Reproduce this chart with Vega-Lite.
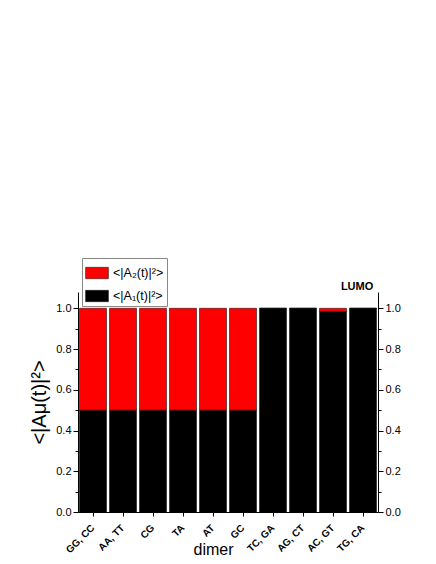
{
  "$schema": "https://vega.github.io/schema/vega-lite/v6.json",
  "width": 300,
  "height": 220,
  "autosize": {"type": "none"},
  "padding": {"left": 78, "top": 292, "right": 58, "bottom": 52},
  "background": "white",
  "title": {"text": "LUMO", "anchor": "end", "fontSize": 11, "fontWeight": "bold", "font": "Liberation Sans", "color": "black", "offset": 4, "dx": -27, "dy": 38},
  "config": {
    "view": {"stroke": null},
    "axis": {"labelFont": "Liberation Sans", "titleFont": "Liberation Sans", "domainColor": "black", "tickColor": "black", "labelColor": "black", "titleColor": "black", "grid": false, "titleFontWeight": "normal"}
  },
  "data": {"values": [
    {"dimer": "GG, CC", "series": "<|A₁(t)|²>", "value": 0.5},
    {"dimer": "GG, CC", "series": "<|A₂(t)|²>", "value": 0.5},
    {"dimer": "AA, TT", "series": "<|A₁(t)|²>", "value": 0.5},
    {"dimer": "AA, TT", "series": "<|A₂(t)|²>", "value": 0.5},
    {"dimer": "CG", "series": "<|A₁(t)|²>", "value": 0.5},
    {"dimer": "CG", "series": "<|A₂(t)|²>", "value": 0.5},
    {"dimer": "TA", "series": "<|A₁(t)|²>", "value": 0.5},
    {"dimer": "TA", "series": "<|A₂(t)|²>", "value": 0.5},
    {"dimer": "AT", "series": "<|A₁(t)|²>", "value": 0.5},
    {"dimer": "AT", "series": "<|A₂(t)|²>", "value": 0.5},
    {"dimer": "GC", "series": "<|A₁(t)|²>", "value": 0.5},
    {"dimer": "GC", "series": "<|A₂(t)|²>", "value": 0.5},
    {"dimer": "TC, GA", "series": "<|A₁(t)|²>", "value": 1.0},
    {"dimer": "TC, GA", "series": "<|A₂(t)|²>", "value": 0.0},
    {"dimer": "AG, CT", "series": "<|A₁(t)|²>", "value": 1.0},
    {"dimer": "AG, CT", "series": "<|A₂(t)|²>", "value": 0.0},
    {"dimer": "AC, GT", "series": "<|A₁(t)|²>", "value": 0.985},
    {"dimer": "AC, GT", "series": "<|A₂(t)|²>", "value": 0.015},
    {"dimer": "TG, CA", "series": "<|A₁(t)|²>", "value": 1.0},
    {"dimer": "TG, CA", "series": "<|A₂(t)|²>", "value": 0.0}
  ]},
  "encoding": {
    "x": {
      "field": "dimer", "type": "nominal", "sort": null,
      "scale": {"paddingInner": 0.1, "paddingOuter": 0.05},
      "axis": {"title": "dimer", "titleFontSize": 16, "titleX": 135, "titleY": 29, "titleBaseline": "top", "titleAlign": "center", "labelAngle": -45, "labelAlign": "right", "labelBaseline": "middle", "labelFontSize": 10, "labelFontWeight": "bold", "labelFont": "Liberation Sans", "tickSize": 4, "labelPadding": 10, "domainColor": "black"}
    }
  },
  "layer": [
    {
      "mark": {"type": "bar", "stroke": "black", "strokeWidth": 0.5},
      "encoding": {
        "y": {"field": "value", "type": "quantitative", "stack": "zero", "scale": {"domain": [0, 1.08], "nice": false},
          "axis": {"title": "<|Aμ(t)|²>", "titleFontSize": 20, "titlePadding": 6, "values": [0, 0.2, 0.4, 0.6, 0.8, 1.0], "format": ".1f", "labelFontSize": 11, "tickSize": 5, "orient": "left"}},
        "color": {"field": "series", "type": "nominal",
          "scale": {"domain": ["<|A₂(t)|²>", "<|A₁(t)|²>"], "range": ["#ff0000", "#000000"]},
          "legend": {"title": null, "orient": "none", "legendX": 4, "legendY": -34, "direction": "vertical", "fillColor": "white", "strokeColor": "#888888", "padding": 3, "rowPadding": 4, "labelFontSize": 12.5, "labelFont": "Liberation Sans", "labelColor": "black", "symbolType": "M-1,-0.5H1V0.5H-1Z", "symbolSize": 520, "symbolStrokeColor": "black", "symbolStrokeWidth": 0.5, "symbolOpacity": 1, "labelOffset": 4}},
        "order": {"field": "series", "sort": "ascending"}
      }
    },
    {
      "mark": {"type": "bar", "opacity": 0},
      "encoding": {
        "y": {"field": "value", "type": "quantitative", "aggregate": "sum",
          "axis": {"title": null, "values": [0.1, 0.3, 0.5, 0.7, 0.9], "labels": false, "domain": false, "tickSize": 3, "orient": "left"}}
      }
    },
    {
      "mark": {"type": "bar", "opacity": 0},
      "encoding": {
        "y": {"field": "value", "type": "quantitative", "aggregate": "sum",
          "axis": {"title": null, "values": [0, 0.2, 0.4, 0.6, 0.8, 1.0], "format": ".1f", "labelFontSize": 11, "tickSize": 5, "orient": "right"}}
      }
    },
    {
      "mark": {"type": "bar", "opacity": 0},
      "encoding": {
        "y": {"field": "value", "type": "quantitative", "aggregate": "sum",
          "axis": {"title": null, "values": [0.1, 0.3, 0.5, 0.7, 0.9], "labels": false, "domain": false, "tickSize": 3, "orient": "right"}}
      }
    }
  ],
  "resolve": {"axis": {"y": "independent"}}
}
